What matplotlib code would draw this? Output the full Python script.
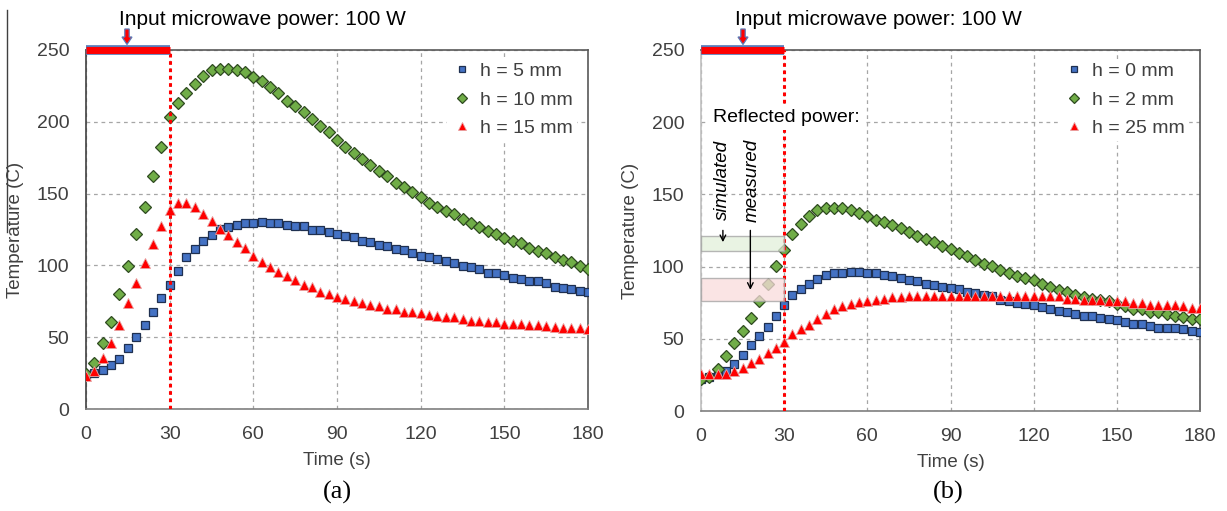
import matplotlib
matplotlib.use("Agg")
import matplotlib.pyplot as plt
from matplotlib.patches import Rectangle, Polygon
from matplotlib.lines import Line2D
import numpy as np

plt.rcParams['font.family'] = ['Liberation Sans', 'DejaVu Sans']

time_s = list(range(0, 181, 3))

# Panel (a)
a_h5 = [24, 24.8, 27.1, 30.4, 35, 42.5, 50.3, 58.2, 67.5, 77.3, 86.5, 96.3, 105.6, 111.1, 117.2, 121.3,
        125, 126.5, 128.3, 129.5, 129.6, 130.5, 129.5, 129.5, 128.1, 127.6, 127.6, 124.8, 124.4, 123.2, 122,
        120.2, 119.5, 117.2, 116.5, 114.4, 113.5, 111.1, 110.7, 108.8, 106.3, 105.7, 104.4, 103, 101.9, 99.5,
        98.6, 97.4, 94.9, 94.4, 93.3, 91.2, 90.3, 89.3, 88.9, 87.5, 85.2, 84.2, 83.8, 82.4, 81.2]
a_h10 = [24.4, 31.8, 45.7, 60.8, 79.8, 99.5, 122, 140.8, 162.6, 182.4, 203, 213.2, 220.4, 226, 231.8, 236.4,
         236.9, 236.9, 236.4, 234.6, 231.3, 228.3, 224.4, 220.4, 214.8, 211.1, 206.5, 202.1, 196.8, 192.6, 187.2,
         182.6, 178, 174, 169.8, 165.9, 162.2, 157.5, 154.8, 151.3, 147.8, 143.8, 140.8, 138, 135.5, 132.3,
         129.2, 126.9, 124.1, 121.8, 119.3, 116.9, 115.3, 112.1, 110.2, 108.4, 105.8, 103.9, 102.3, 99.5, 97.7]
a_h15 = [23, 26.7, 35.7, 45.7, 58.5, 73.5, 87.5, 101.9, 114.8, 127.6, 138.5, 143.6, 143.6, 140.8, 135.7, 130.6,
         125.5, 121.1, 116, 111.8, 106.6, 102.3, 98.6, 95.6, 92.6, 89.8, 86.3, 84.7, 81.4, 80, 78.2,
         76.6, 75.2, 73.5, 72.4, 71.7, 69.4, 69.4, 67.3, 67.3, 66.8, 65.4, 65, 64.3, 64.3, 62.9,
         61.5, 61.5, 60.8, 60.8, 59.2, 59.2, 59.2, 58.5, 58.5, 57.8, 57.3, 56.4, 56.4, 56.4, 55.7]

# Panel (b)
b_h0 = [22.5, 23.7, 25.3, 27.6, 32.7, 38.5, 45.4, 51.8, 58.3, 66.1, 73.3, 80, 84.6, 88.2, 91.5, 94.5,
        95.6, 95.6, 96.3, 96.2, 95.6, 95.6, 94.2, 93.8, 92.2, 91, 90.3, 88.2, 87.6, 85.9, 85,
        84.6, 82.3, 81.6, 80.6, 79.5, 76.7, 76.3, 74.9, 74, 73.4, 72.1, 70.3, 69.4, 68.7, 67.5,
        66.1, 65.7, 64.3, 63.4, 62.9, 61.5, 60.4, 60.1, 59.2, 57.8, 57.4, 57.4, 56.5, 55.3, 54.8]
b_h2 = [21.9, 23.7, 28.8, 38, 47.2, 55.3, 64.3, 76.5, 87.8, 100.7, 111.3, 122.4, 129.3, 134.8, 138.9, 140.6,
        140.6, 140.6, 139.4, 137.2, 134.8, 132.5, 130.6, 129, 126.7, 123.7, 121, 119.1, 116.8, 114.1, 112.2,
        109.4, 107.1, 104.4, 102.1, 100.7, 97.9, 95.6, 93.3, 91.9, 90.4, 88.2, 85.9, 84.1, 82.5, 80.6,
        79, 77.9, 77.2, 76.3, 74.4, 72.6, 70.7, 70.3, 68.9, 68.4, 67, 66.1, 65.2, 63.4, 63.4]
b_h25 = [25.3, 25.3, 25.3, 25.3, 27.6, 30, 33, 36.2, 40.3, 43.8, 47.9, 53, 56.9, 59.9, 63.8, 67.3,
         70.3, 72.6, 74.4, 75.5, 76.5, 77.2, 77.9, 79, 79.2, 79.4, 79.5, 79.5, 79.5, 79.5, 79.5,
         79.5, 79.5, 79.5, 79.5, 79.5, 79.5, 79.5, 79.5, 79.5, 79.5, 79.5, 79.5, 79.5, 77.6, 77.6,
         76.7, 76.7, 76.7, 76, 76, 76, 74.9, 74.9, 73.7, 73.7, 73.7, 73.7, 73, 71.4, 71.4]

labels_a = ['h = 5 mm', 'h = 10 mm', 'h = 15 mm']
labels_b = ['h = 0 mm', 'h = 2 mm', 'h = 25 mm']
x_ticks = [0, 30, 60, 90, 120, 150, 180]
y_ticks = [0, 50, 100, 150, 200, 250]

W, H = 1227, 511
fig = plt.figure(figsize=(W / 100, H / 100), dpi=100)

def px_axes(l, r, t, b):
    return fig.add_axes([l / W, 1 - b / H, (r - l) / W, (b - t) / H])

ax_a = px_axes(86, 588, 50, 409)
ax_b = px_axes(701, 1200, 50, 411)

styles = [
    dict(marker='s', ms=5.3, mfc='#4472C4', mec='#1F3050', mew=0.9),
    dict(marker='D', ms=6.2, mfc='#70AD47', mec='#2E4A20', mew=0.9),
    dict(marker='^', ms=7.6, mfc='#FF0000', mec='#E8A0A0', mew=0.6),
]

txt_col = '#404040'

def px_arrow(xc):
    # small down arrow above the power bar, in figure pixel coordinates
    pts = [(xc - 2.2, 29), (xc + 2.2, 29), (xc + 2.2, 37), (xc + 5, 37), (xc, 44.5),
           (xc - 5, 37), (xc - 2.2, 37)]
    pts = [(x / W, 1 - y / H) for x, y in pts]
    fig.add_artist(Polygon(pts, closed=True, facecolor='#FF0000', edgecolor='#5B7BB8',
                           linewidth=0.9, transform=fig.transFigure, zorder=10))

def setup(ax, series, labels, left_spine_col):
    ax.set_xlim(0, 180)
    ax.set_ylim(0, 250)
    ax.set_xticks(x_ticks)
    ax.set_yticks(y_ticks)
    ax.grid(True, color='#A6A6A6', linestyle=(0, (3, 3)), linewidth=0.9)
    ax.set_axisbelow(True)
    ax.tick_params(length=0, labelsize=14, labelcolor=txt_col)
    ax.tick_params(axis='x', pad=12)
    ax.tick_params(axis='y', pad=12)
    for s in ['top', 'right']:
        ax.spines[s].set_color('#595959')
        ax.spines[s].set_linewidth(1.2)
    ax.spines['bottom'].set_color('#7F7F7F')
    ax.spines['bottom'].set_linewidth(1.2)
    ax.spines['left'].set_color(left_spine_col)
    ax.spines['left'].set_linewidth(1.2)
    for ys, st, lb in zip(series, styles, labels):
        ax.plot(time_s, ys, linestyle='none', label=lb, zorder=3, **st)
    # red dotted line at 30 s
    ax.plot([30, 30], [0, 250], color='#FF0000', linestyle=(0, (1.2, 1.2)), linewidth=2.2, zorder=4)
    # power bar
    ax.plot([0, 30], [250, 250], color='#5B7BB8', linewidth=7, solid_capstyle='butt', zorder=5, clip_on=False)
    ax.plot([0, 30], [250, 250], color='#FF0000', linewidth=5, solid_capstyle='butt', zorder=6, clip_on=False)
    ax.set_xlabel('Time (s)', fontsize=13.5, color=txt_col, labelpad=7)
    ax.set_ylabel('Temperature (C)', fontsize=13.5, color=txt_col, labelpad=9)
    leg = ax.legend(loc='upper right', fontsize=14, frameon=True, framealpha=1,
                    edgecolor='white', facecolor='white', handletextpad=0.35,
                    handlelength=1.2, borderpad=0.15, labelspacing=0.55, markerscale=0.85,
                    bbox_to_anchor=(0.995, 1.0))
    for t in leg.get_texts():
        t.set_color(txt_col)
    leg.set_zorder(2.5)
    return ax

setup(ax_a, [a_h5, a_h10, a_h15], labels_a, '#404040')
setup(ax_b, [b_h0, b_h2, b_h25], labels_b, '#BFBFBF')
px_arrow(127)
px_arrow(743)

# titles
fig.text(262 / W, 1 - 19 / H, 'Input microwave power: 100 W', fontsize=15, ha='center', va='center', color='black')
fig.text(878 / W, 1 - 19 / H, 'Input microwave power: 100 W', fontsize=15, ha='center', va='center', color='black')

# panel labels
fig.text(337 / W, 1 - 492 / H, '(a)', fontsize=19, ha='center', va='center', family='Liberation Serif')
fig.text(948 / W, 1 - 492 / H, '(b)', fontsize=19, ha='center', va='center', family='Liberation Serif')

# stray border line at far left
fig.add_artist(Line2D([7 / W, 7 / W], [1 - 10 / H, 1 - 232 / H], color='#404040', linewidth=1.0))

# panel (b) annotations
ax_b.add_patch(Rectangle((0, 110.6), 30, 10.6, facecolor='#E2EFDA', edgecolor='#A0A0A0',
                         alpha=0.75, linewidth=1.0, zorder=4.5))
ax_b.add_patch(Rectangle((0, 76), 30, 16.2, facecolor='#F9DCDC', edgecolor='#A0A0A0',
                         alpha=0.75, linewidth=1.0, zorder=4.5))
ax_b.text(4.3, 203, 'Reflected power:', fontsize=14, ha='left', va='center', color='black',
          bbox=dict(facecolor='white', edgecolor='none', pad=3), zorder=8)
ax_b.text(7.9, 160, 'simulated', fontsize=13.5, style='italic', rotation=90, ha='center', va='center', zorder=8)
ax_b.text(18.4, 160, 'measured', fontsize=13.5, style='italic', rotation=90, ha='center', va='center', zorder=8)
ax_b.annotate('', xy=(7.9, 115), xytext=(7.9, 127),
              arrowprops=dict(arrowstyle='->', color='black', lw=1.0), zorder=8)
ax_b.annotate('', xy=(17.8, 82), xytext=(17.8, 127),
              arrowprops=dict(arrowstyle='->', color='black', lw=1.0), zorder=8)

fig.savefig('out.png', dpi=100)
